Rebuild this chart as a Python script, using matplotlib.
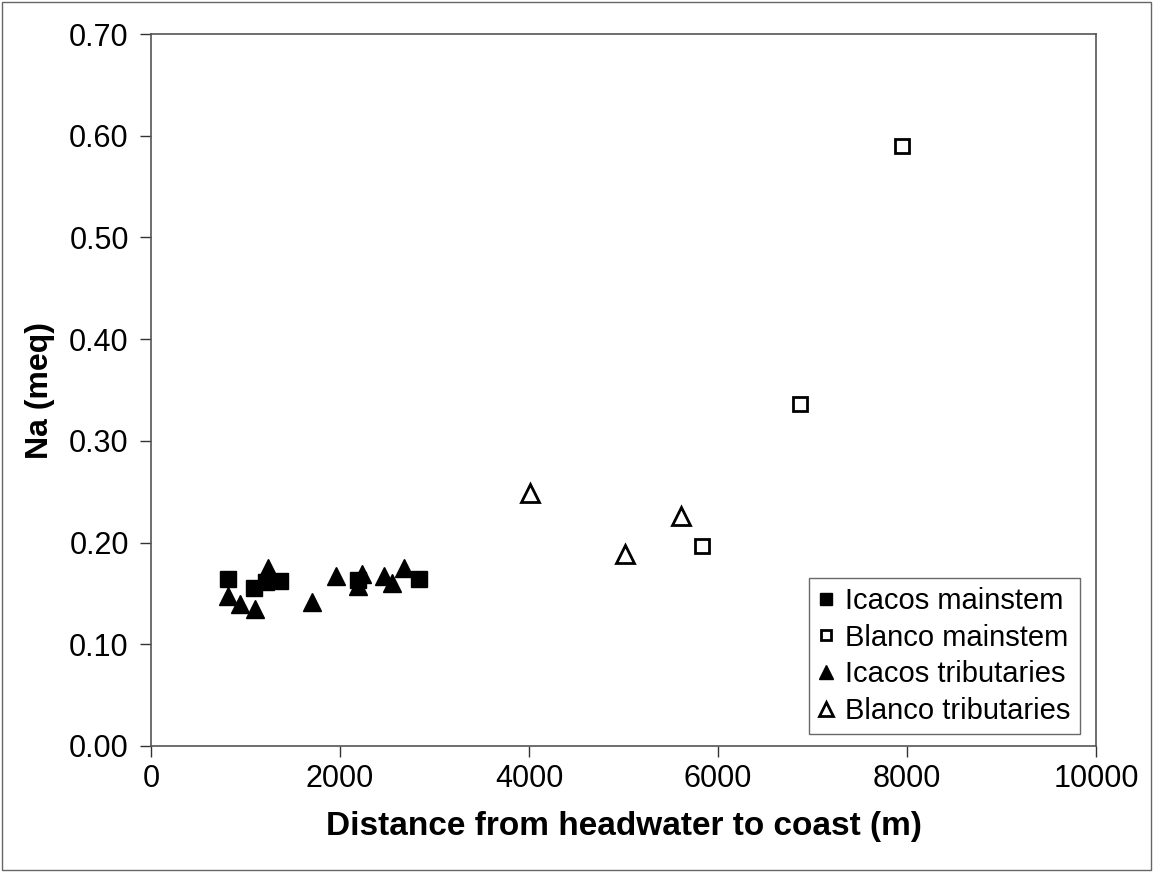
import matplotlib
matplotlib.use("Agg")
import matplotlib.pyplot as plt
from matplotlib.patches import Rectangle

plt.rcParams['font.family'] = ['Liberation Sans', 'DejaVu Sans']

# Icacos mainstem (filled squares)
icacos_main_x = [812, 1090, 1220, 1365, 2190, 2836]
icacos_main_y = [0.164, 0.155, 0.161, 0.162, 0.163, 0.164]

# Blanco mainstem (open squares)
blanco_main_x = [5831, 6868, 7947]
blanco_main_y = [0.197, 0.336, 0.590]

# Icacos tributaries (filled triangles)
icacos_trib_x = [815, 942, 1100, 1238, 1704, 1958, 2190, 2233, 2466, 2550, 2677]
icacos_trib_y = [0.147, 0.140, 0.135, 0.175, 0.142, 0.167, 0.157, 0.169, 0.167, 0.160, 0.175]

# Blanco tributaries (open triangles)
blanco_trib_x = [4011, 5016, 5608]
blanco_trib_y = [0.249, 0.189, 0.226]

fig = plt.figure(figsize=(11.53, 8.72), dpi=100)
ax = fig.add_axes([0.131, 0.1445, 0.8196, 0.8165])

ax.plot(icacos_main_x, icacos_main_y, ls='none', marker='s', ms=11,
        mfc='black', mec='black', label='Icacos mainstem')
ax.plot(blanco_main_x, blanco_main_y, ls='none', marker='s', ms=10,
        mfc='white', mec='black', mew=2, label='Blanco mainstem')
ax.plot(icacos_trib_x, icacos_trib_y, ls='none', marker='^', ms=13,
        mfc='black', mec='black', label='Icacos tributaries')
ax.plot(blanco_trib_x, blanco_trib_y, ls='none', marker='^', ms=13,
        mfc='white', mec='black', mew=2, label='Blanco tributaries')

ax.set_xlim(0, 10000)
ax.set_ylim(0, 0.70)
ax.set_xticks(range(0, 10001, 2000))
ax.set_yticks([i / 10 for i in range(8)])
ax.set_yticklabels([f"{i / 10:.2f}" for i in range(8)])
ax.tick_params(axis='both', direction='out', length=8, width=1, labelsize=22,
               color='#333333')
ax.tick_params(axis='y', pad=8)
ax.tick_params(axis='x', pad=5)

for s in ax.spines.values():
    s.set_color('#555555')
    s.set_linewidth(1.2)

ax.set_xlabel('Distance from headwater to coast (m)', fontsize=24,
              fontweight='bold', labelpad=12)
ax.set_ylabel('Na (meq)', fontsize=23, fontweight='bold', labelpad=10)

leg = ax.legend(loc='lower right', fontsize=21, frameon=True, fancybox=False,
                edgecolor='#444444', handlelength=0.6, handletextpad=0.35,
                borderpad=0.3, labelspacing=0.3, markerscale=0.75,
                borderaxespad=0, bbox_to_anchor=(0.9825, 0.017))
leg.get_frame().set_linewidth(1.0)

fig.patches.append(Rectangle((0.002, 0.002), 0.996, 0.996, transform=fig.transFigure,
                             fill=False, edgecolor='#666666', linewidth=1))

fig.savefig('out.png', dpi=100)
